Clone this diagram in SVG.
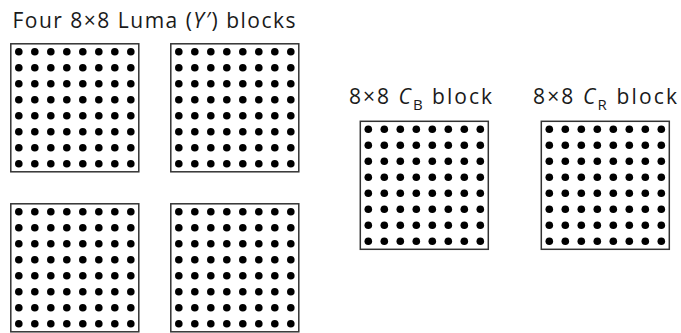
<svg xmlns="http://www.w3.org/2000/svg" xmlns:xlink="http://www.w3.org/1999/xlink" width="681" height="333" viewBox="0 0 681 333">
<defs>
<style>
.lbl{font-family:"Open Sans","Noto Sans","Liberation Sans",sans-serif;font-size:21px;fill:#1a1a1a}
.box{fill:#fff;stroke:#333;stroke-width:1.5}
.dot{fill:#000}
</style>
<circle id="d" r="3.8" class="dot"/>
<g id="row">
<use xlink:href="#d" x="8"/><use xlink:href="#d" x="24"/><use xlink:href="#d" x="40"/><use xlink:href="#d" x="56"/>
<use xlink:href="#d" x="72"/><use xlink:href="#d" x="88"/><use xlink:href="#d" x="104"/><use xlink:href="#d" x="120"/>
</g>
<g id="blk">
<rect class="box" x="0" y="0" width="128" height="128"/>
<use xlink:href="#row" y="8"/><use xlink:href="#row" y="24"/><use xlink:href="#row" y="40"/><use xlink:href="#row" y="56"/>
<use xlink:href="#row" y="72"/><use xlink:href="#row" y="88"/><use xlink:href="#row" y="104"/><use xlink:href="#row" y="120"/>
</g>
</defs>
<rect width="681" height="333" fill="#fff"/>
<g id="luma-label"><text class="lbl" x="12.5" y="27.5" textLength="283" lengthAdjust="spacing">Four 8×8 Luma (<tspan font-style="italic">Y′</tspan>) blocks</text></g>
<g id="luma-1"><use xlink:href="#blk" x="10.8" y="43.8"/></g>
<g id="luma-2"><use xlink:href="#blk" x="170.8" y="43.8"/></g>
<g id="luma-3"><use xlink:href="#blk" x="10.8" y="203.8"/></g>
<g id="luma-4"><use xlink:href="#blk" x="170.8" y="203.8"/></g>
<g id="cb-label"><text class="lbl" x="349" y="104" textLength="143" lengthAdjust="spacing">8×8 <tspan font-style="italic">C</tspan><tspan font-size="15" dy="6">B</tspan><tspan dy="-6"> block</tspan></text></g>
<g id="cb"><use xlink:href="#blk" x="360.3" y="121.3"/></g>
<g id="cr-label"><text class="lbl" x="533" y="104" textLength="144" lengthAdjust="spacing">8×8 <tspan font-style="italic">C</tspan><tspan font-size="15" dy="6">R</tspan><tspan dy="-6"> block</tspan></text></g>
<g id="cr"><use xlink:href="#blk" x="541.3" y="121.3"/></g>
<g id="connectors"/>
</svg>
